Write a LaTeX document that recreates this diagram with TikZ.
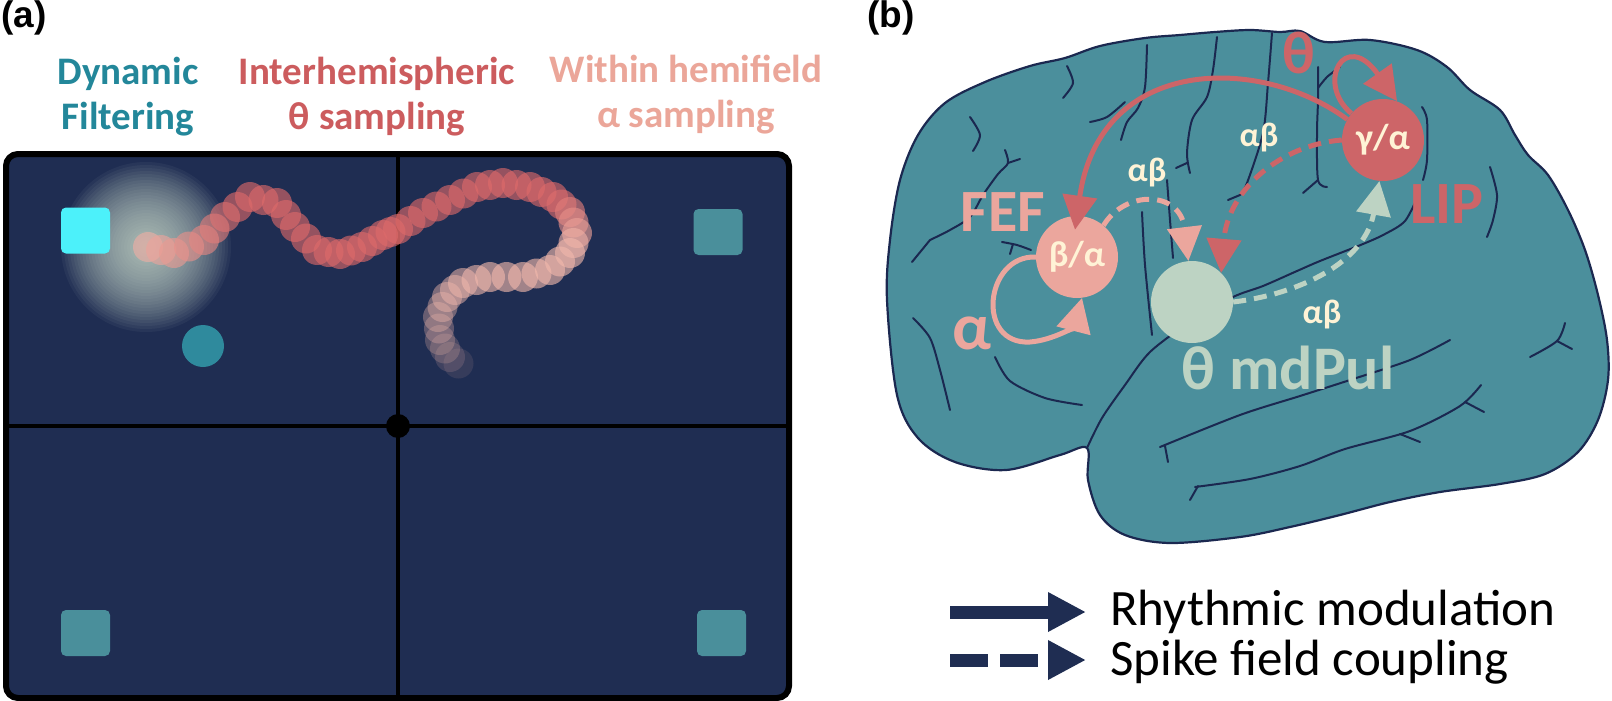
\documentclass[tikz,border=0pt]{standalone}
\usepackage{fontspec}
\setmainfont{Carlito}
\newfontfamily\panelfont{Liberation Sans}
\usetikzlibrary{arrows.meta}

\definecolor{boardnavy}{HTML}{1F2D52}
\definecolor{cuecyan}{HTML}{4CF1FA}
\definecolor{cueteal}{HTML}{4A8F9B}
\definecolor{probeteal}{HTML}{2F8A9D}
\definecolor{glowpale}{HTML}{D2E2D2}
\definecolor{filtteal}{HTML}{23879A}
\definecolor{thetared}{HTML}{CC5C5E}
\definecolor{alphapink}{HTML}{EBA699}
\definecolor{snakered}{HTML}{DE6A6A}
\definecolor{snakepink}{HTML}{F2B8AC}
\definecolor{brainteal}{HTML}{4B8F9C}
\definecolor{sulcusnavy}{HTML}{1B2850}
\definecolor{fefpink}{HTML}{EBA69D}
\definecolor{lipred}{HTML}{CD6568}
\definecolor{pulgreen}{HTML}{BDD3C3}
\definecolor{bandcream}{HTML}{FFF3D6}

\tikzset{
    panelmark/.style={
    anchor=north west,inner sep=0,font=\fontsize{37}{37}\selectfont\panelfont\bfseries
    },
    heading/.style={
    anchor=north,align=center,inner sep=0,font=\fontsize{39}{45}\selectfont\bfseries
    },
    cuebox/.style={
    rectangle,rounded corners=5pt,minimum width=49pt,minimum height=46pt,inner sep=0
    },
    region/.style={
    circle,minimum size=82pt,inner sep=0,text=bandcream,font=\fontsize{36}{36}\selectfont\bfseries
    },
    lobename/.style={
    inner sep=0,font=\fontsize{60}{60}\selectfont\bfseries
    },
    bandname/.style={
    inner sep=0,text=bandcream,font=\fontsize{34}{34}\selectfont\bfseries
    },
    sulcus/.style={
    draw=sulcusnavy,line width=2pt,line cap=round,line join=round
    },
    rhythm/.style={
    line width=5pt,-{Triangle[length=34pt,width=34pt]}
    },
    coupling/.style={
    rhythm,dash pattern=on 13pt off 8pt
    },
    keytext/.style={
    anchor=base west,inner sep=0,font=\fontsize{51}{51}\selectfont
    },
}

\begin{document}
\begin{tikzpicture}[x=1pt,y=-1pt]
  \useasboundingbox (0,0) rectangle (1612,701);

  % (a) screen
  \node[panelmark] (pa) at (1,0.5) {(a)};
  \node[heading,text=filtteal] (dyn) at (128,57) {Dynamic\\Filtering};
  \node[heading,text=thetared] (inter) at (377,57) {Interhemispheric\\θ sampling};
  \node[heading,text=alphapink] (within) at (686,55) {Within hemifield\\α sampling};

  \draw[fill=boardnavy,draw=black,line width=6pt,rounded corners=12pt] (6,154) rectangle (789,698);
  \draw[line width=4pt] (398,154) -- (398,698);
  \draw[line width=4pt] (6,426) -- (789,426);
  \fill (398,426) circle (12);

  \foreach \r in {85,82,...,4}
    \fill[glowpale,fill opacity=0.055] (146,247) circle (\r);

  \node[cuebox,fill=cuecyan] (cueTL) at (85.5,230.5) {};
  \node[cuebox,fill=cueteal] (cueTR) at (718,232) {};
  \node[cuebox,fill=cueteal] (cueBL) at (85.5,633) {};
  \node[cuebox,fill=cueteal] (cueBR) at (721.5,633) {};
  \node[circle,fill=probeteal,minimum size=42pt,inner sep=0] (probe) at (203,346) {};

  % sampling trace
  \foreach \x/\y [count=\k, remember=\x as \px (initially 148), remember=\y as \py (initially 247)] in
    {174/253, 204/240, 225/217, 250/197, 277/203, 295/227, 317/250, 340/254, 362/247, 383/235,
     398/229, 423/213, 450/200, 477/187, 503/183, 530/187, 553/197, 570/212, 577/233, 570/253,
     550/270, 523/277, 490/277, 463/283, 447/297, 438/317, 440/340, 450/357, 467/370}
    \foreach \s in {0,0.5} {
      \pgfmathsetmacro\snkt{(\k-1+\s)/29}
      \pgfmathsetmacro\snkx{\px+(\x-\px)*\s}
      \pgfmathsetmacro\snky{\py+(\y-\py)*\s}
      \pgfmathsetmacro\snkp{100*max(0,min(1,min((\snkt+0.02)/0.14,(0.68-\snkt)/0.08)))}
      \pgfmathsetmacro\snko{max(0.06,min(0.62,0.62-(\snkt-0.8)*2.8))}
      \fill[snakered!\snkp!snakepink,fill opacity=\snko] (\snkx,\snky) circle (15pt);
    }

  % (b) brain
  \node[panelmark] (pb) at (867,0.5) {(b)};
  \fill[brainteal,draw=sulcusnavy,line width=2.2pt] plot[smooth cycle,tension=0.55] coordinates {
    (887,300) (890,240) (900,180) (918,135) (945,103) (985,82) (1030,66) (1065,58) (1100,46)
    (1145,38) (1180,35) (1215,32) (1250,30) (1280,32) (1300,31) (1325,42) (1370,40) (1417,50)
    (1447,67) (1470,90) (1500,110) (1515,135) (1528,155) (1548,175) (1568,210) (1585,250)
    (1598,295) (1607,340) (1608,380) (1598,420) (1578,452) (1545,474) (1500,484) (1440,492)
    (1390,502) (1340,515) (1290,527) (1240,537) (1170,543) (1125,535) (1100,515) (1088,480)
    (1087,448) (1060,455) (1006,470) (955,462) (918,438) (897,395)};

  \draw[sulcus] plot[smooth] coordinates {(1067,66) (1073,83) (1063,98)};
  \draw[sulcus] plot[smooth] coordinates {(1090,122) (1107,117) (1125,102)};
  \draw[sulcus] plot[smooth] coordinates {(970,117) (980,135) (973,151)};
  \draw[sulcus] plot[smooth] coordinates {(1005,150) (1008,163) (998,174) (983,195) (970,217) (950,230) (930,240)};
  \draw[sulcus] (1008,163) -- (1020,159);
  \draw[sulcus] (930,240) -- (912,262);
  \draw[sulcus] plot[smooth] coordinates {(913,318) (930,338) (940,370) (950,410)};
  \draw[sulcus] plot[smooth] coordinates {(1002,242) (1017,245) (1031,250)};
  \draw[sulcus] (1013,244) -- (1010,254);
  \draw[sulcus] plot[smooth] coordinates {(995,357) (1010,381) (1045,398) (1082,405)};
  \draw[sulcus] plot[smooth] coordinates {(1142,212) (1145,265) (1152,335)};
  \draw[sulcus] plot[smooth] coordinates {(1167,180) (1170,220) (1173,258)};
  \draw[sulcus] plot[smooth] coordinates {(1147,45) (1145,87) (1138,108) (1127,122) (1121,140)};
  \draw[sulcus] plot[smooth] coordinates {(1217,37) (1213,70) (1207,97) (1192,120) (1187,153) (1190,173)};
  \draw[sulcus] (1187,163) -- (1176,168);
  \draw[sulcus] plot[smooth] coordinates {(1272,33) (1268,83) (1263,133) (1247,183) (1240,195)};
  \draw[sulcus] (1240,195) -- (1228,200);
  \draw[sulcus] plot[smooth] coordinates {(1318,67) (1318,100) (1317,133) (1318,180) (1327,187)};
  \draw[sulcus] (1318,180) -- (1303,193);
  \draw[sulcus] plot[smooth] coordinates {(1340,67) (1327,77) (1318,88)};
  \draw[sulcus] plot[smooth] coordinates {(1422,107) (1427,120) (1427,160) (1423,180)};
  \draw[sulcus] plot[smooth] coordinates {(1490,167) (1497,195) (1493,220) (1487,237)};
  \draw[sulcus] plot[smooth] coordinates {(1530,357) (1557,341) (1565,323)};
  \draw[sulcus] (1557,341) -- (1572,349);
  \draw[sulcus] plot[smooth] coordinates {(1087,448) (1102,418) (1125,385) (1150,352) (1190,322)
    (1233,297) (1263,286) (1297,271) (1320,261) (1363,244) (1385,234) (1405,221) (1418,196)};
  \draw[sulcus] plot[smooth] coordinates {(1160,447) (1240,415) (1300,396) (1350,380) (1410,360) (1450,340)};
  \draw[sulcus] (1165,446) -- (1168,462);
  \draw[sulcus] plot[smooth] coordinates {(1195,487) (1250,479) (1300,466) (1345,449) (1410,431) (1460,406) (1481,385)};
  \draw[sulcus] (1198,486) -- (1190,500);
  \draw[sulcus] (1400,434) -- (1420,442);
  \draw[sulcus] (1465,402) -- (1484,412);

  \node[region,fill=fefpink] (fef) at (1077,257) {β/α};
  \node[region,fill=lipred] (lip) at (1383,140) {γ/α};
  \node[region,fill=pulgreen] (pul) at (1192,302) {};

  \node[lobename,text=fefpink] (feflab) at (1003,212) {FEF};
  \node[lobename,text=lipred] (liplab) at (1447,204) {LIP};
  \node[lobename,text=pulgreen,font=\fontsize{62}{62}\selectfont\bfseries] (pullab) at (1288,368) {θ mdPul};
  \node[lobename,text=fefpink,font=\fontsize{66}{66}\selectfont\bfseries] (alab) at (972,333) {α};
  \node[lobename,text=lipred] (tlab) at (1299,53) {θ};
  \node[bandname] (ab1) at (1147,173) {αβ};
  \node[bandname] (ab2) at (1259,138) {αβ};
  \node[bandname] (ab3) at (1322,315) {αβ};

  \draw[rhythm,draw=lipred,shorten >=-14pt] (lip.150) .. controls (1260,55) and (1100,55) .. (fef.north);
  \draw[rhythm,draw=lipred] (lip.140) .. controls (1315,83) and (1345,28) .. (lip.70);
  \draw[coupling,draw=lipred] (lip.west) .. controls (1280,145) and (1228,190) .. (pul.45);
  \draw[coupling,draw=fefpink] (fef.50) .. controls (1125,190) and (1180,190) .. (pul.95);
  \draw[coupling,draw=pulgreen] (pul.east) .. controls (1300,294) and (1365,262) .. (lip.265);
  \draw[rhythm,draw=fefpink] (fef.180) .. controls (985,255) and (975,345) .. (1030,342)
    .. controls (1055,340) and (1075,325) .. (fef.277);

  % legend
  \coordinate (rhyA) at (950,612);
  \coordinate (rhyB) at (1086,612);
  \coordinate (spkA) at (950,660);
  \coordinate (spkB) at (1086,660);
  \draw[draw=boardnavy,line width=13pt,-{Triangle[length=38pt,width=37pt]}] (rhyA) -- (rhyB);
  \draw[draw=boardnavy,line width=13pt,dash pattern=on 38pt off 12pt,-{Triangle[length=38pt,width=37pt]}] (spkA) -- (spkB);
  \node[keytext] (rhy) at (1110,625) {Rhythmic modulation};
  \node[keytext] (spk) at (1110,675) {Spike field coupling};
\end{tikzpicture}
\end{document}
